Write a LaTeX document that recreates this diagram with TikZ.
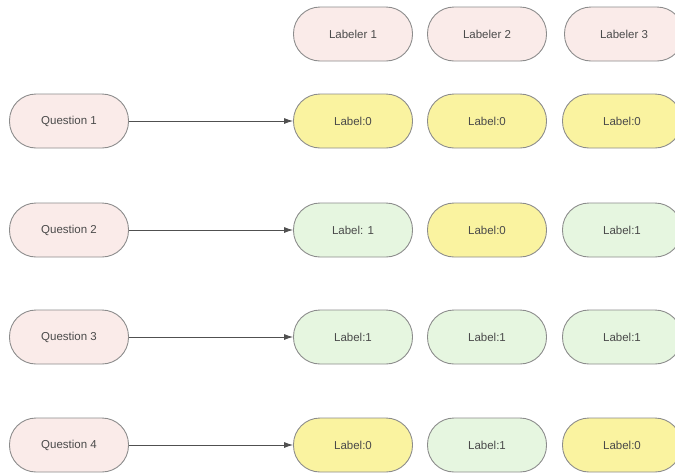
\documentclass[tikz,border=0pt]{standalone}
\usepackage{fontspec}
\setmainfont{Liberation Sans}
\usetikzlibrary{arrows.meta}

\definecolor{pinkfill}{HTML}{FAEBE9}
\definecolor{yellowfill}{HTML}{FAF3A0}
\definecolor{greenfill}{HTML}{E6F6E0}
\definecolor{edgegray}{HTML}{8C8C8C}
\definecolor{textgray}{HTML}{4A4A4A}
\definecolor{arrowgray}{HTML}{505050}

\tikzset{
  pill/.style={draw=edgegray, line width=0.9pt, rounded corners=26.5pt,
    minimum width=119pt, minimum height=54pt, inner sep=0pt,
    font=\fontsize{11.5}{13}\selectfont, text=textgray},
  question/.style={pill, fill=pinkfill},
  labeler/.style={pill, fill=pinkfill},
  zero/.style={pill, fill=yellowfill},
  one/.style={pill, fill=greenfill},
  link/.style={draw=arrowgray, line width=0.8pt, -{Latex[length=9pt,width=6pt]}}
}

\begin{document}
\begin{tikzpicture}[x=1pt, y=-1pt]
  \useasboundingbox (0,0) rectangle (675,472);
  \clip (0,0) rectangle (675,472);

  % labeler headers
  \node[labeler] (h1) at (353,34) {Labeler 1};
  \node[labeler] (h2) at (487,34) {Labeler 2};
  \node[labeler] (h3) at (624,34) {Labeler 3};

  % questions
  \node[question] (q1) at (69,121) {Question 1};
  \node[question] (q2) at (69,230) {Question 2};
  \node[question] (q3) at (69,337) {Question 3};
  \node[question] (q4) at (69,445) {Question 4};

  % answers, row by row
  \node[zero] (a11) at (353,121) {Label:0};
  \node[zero] (a12) at (487,121) {Label:0};
  \node[zero] (a13) at (622,121) {Label:0};

  \node[one]  (a21) at (353,230) {Label: 1};
  \node[zero] (a22) at (487,230) {Label:0};
  \node[one]  (a23) at (622,230) {Label:1};

  \node[one]  (a31) at (353,337) {Label:1};
  \node[one]  (a32) at (487,337) {Label:1};
  \node[one]  (a33) at (622,337) {Label:1};

  \node[zero] (a41) at (353,445) {Label:0};
  \node[one]  (a42) at (487,445) {Label:1};
  \node[zero] (a43) at (622,445) {Label:0};

  % connectors
  \draw[link] (q1) -- (a11);
  \draw[link] (q2) -- (a21);
  \draw[link] (q3) -- (a31);
  \draw[link] (q4) -- (a41);
\end{tikzpicture}
\end{document}
